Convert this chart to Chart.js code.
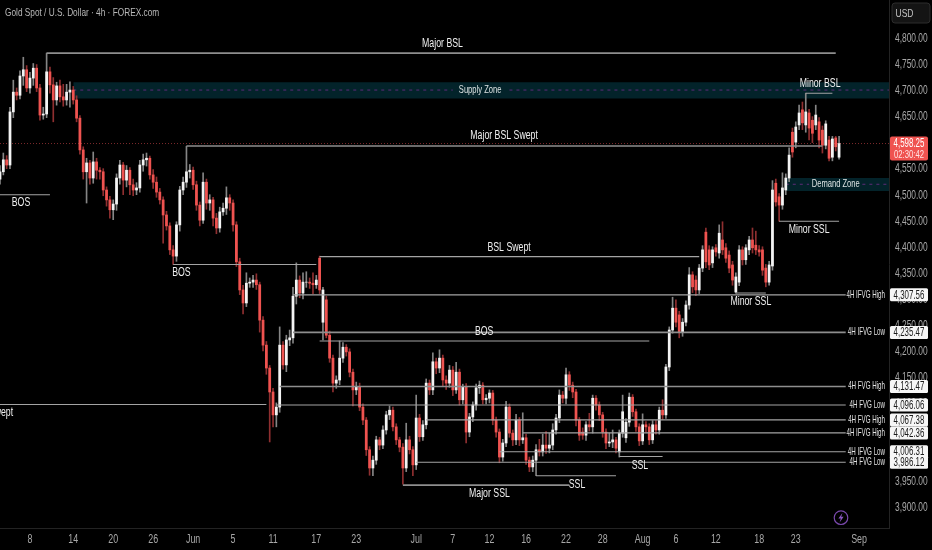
<!DOCTYPE html>
<html>
<head>
<meta charset="utf-8">
<title>Gold Spot / U.S. Dollar</title>
<script src="https://cdn.jsdelivr.net/npm/chart.js@4"></script>
<style>
  html, body { margin: 0; padding: 0; background: #000; overflow: hidden; }
  canvas { display: block; }
</style>
</head>
<body>
<canvas id="chart" width="932" height="550"></canvas>
<script>
// candle values
const opens = [
  4530,4544,4567,4557,4659,4697,4691,4728,4740,4705,
  4724,4743,4705,4653,4655,4736,4711,4682,4709,4688,
  4682,4697,4701,4682,4647,4586,4544,4561,4532,4563,
  4547,4544,4509,4490,4471,4482,4532,4557,4528,4547,
  4519,4509,4513,4557,4567,4570,4538,4524,4505,4490,
  4461,4440,4394,4382,4442,4509,4524,4544,4547,4519,
  4480,4451,4524,4484,4490,4455,4436,4467,4474,4494,
  4484,4442,4371,4317,4292,4330,4332,4336,4327,4259,
  4211,4167,4121,4077,4092,4211,4173,4221,4225,4305,
  4336,4311,4332,4332,4330,4327,4378,4255,4298,4230,
  4186,4138,4144,4186,4207,4198,4159,4125,4131,4092,
  4067,4010,3975,3990,4029,4019,4048,4077,4086,4054,
  4029,4015,3975,4029,4010,3981,4071,4035,4058,4138,
  4125,4179,4167,4186,4144,4138,4163,4125,4159,4106,
  4131,4044,4073,4096,4129,4134,4106,4109,4119,4067,
  4044,3996,4023,4092,4042,4029,4067,4029,4033,3990,
  3977,3990,4010,4006,4019,4013,4019,4048,4071,4115,
  4109,4154,4134,4121,4067,4044,4038,4058,4054,4109,
  4096,4077,4044,4023,4025,4029,4006,4042,4033,4063,
  4111,4083,4054,4027,4058,4054,4029,4058,4048,4086,
  4077,4169,4240,4282,4269,4236,4255,4288,4346,4336,
  4317,4359,4428,4394,4369,4398,4388,4413,4398,4384,
  4365,4313,4332,4394,4375,4394,4413,4403,4394,4394,
  4359,4332,4363,4522,4496,4480,4509,4532,4620,4601,
  4634,4663,4634,4657,4643,4634,4640,4624,4595,4605,
  4572,4609,4572
];
const closes = [
  4544,4567,4557,4659,4697,4691,4728,4740,4705,4724,
  4743,4705,4653,4655,4736,4711,4682,4709,4688,4682,
  4697,4701,4682,4647,4586,4544,4561,4532,4563,4547,
  4544,4509,4490,4471,4482,4532,4557,4528,4547,4519,
  4509,4513,4557,4567,4570,4538,4524,4505,4490,4461,
  4440,4394,4382,4442,4509,4524,4544,4547,4519,4480,
  4451,4524,4484,4490,4455,4436,4467,4474,4494,4484,
  4442,4371,4317,4292,4330,4332,4336,4327,4259,4211,
  4167,4121,4077,4092,4211,4173,4221,4225,4305,4336,
  4311,4332,4332,4330,4327,4336,4317,4317,4230,4186,
  4138,4144,4186,4207,4198,4159,4125,4131,4092,4067,
  4010,3975,3990,4029,4019,4048,4077,4086,4054,4029,
  4015,3975,4029,4010,3981,4071,4035,4058,4138,4125,
  4179,4167,4186,4144,4138,4163,4125,4159,4106,4131,
  4044,4073,4096,4129,4134,4106,4109,4119,4067,4044,
  3996,4023,4092,4042,4029,4067,4029,4033,3990,3977,
  3990,4010,4006,4019,4013,4019,4048,4071,4115,4109,
  4154,4134,4121,4067,4038,4038,4058,4054,4109,4096,
  4077,4044,4023,4025,4029,4013,4042,4083,4063,4111,
  4083,4054,4027,4058,4054,4029,4058,4048,4086,4077,
  4169,4240,4282,4255,4236,4255,4288,4346,4323,4317,
  4359,4394,4371,4365,4394,4390,4426,4394,4378,4359,
  4336,4342,4394,4375,4398,4413,4398,4394,4390,4355,
  4332,4365,4509,4486,4480,4513,4532,4576,4582,4630,
  4657,4638,4659,4628,4618,4653,4605,4595,4636,4570,
  4607,4592,4598.25
];
const highs = [
  4556,4580,4575,4668,4720,4705,4738,4764,4748,4735,
  4752,4750,4712,4668,4772,4745,4725,4716,4720,4712,
  4712,4717,4708,4690,4652,4592,4570,4566,4582,4570,
  4552,4550,4515,4497,4490,4540,4566,4562,4556,4552,
  4530,4523,4566,4578,4580,4574,4548,4534,4512,4496,
  4468,4446,4402,4448,4516,4534,4593,4558,4553,4526,
  4486,4542,4530,4500,4495,4464,4476,4484,4515,4500,
  4490,4448,4378,4326,4350,4340,4345,4348,4332,4266,
  4218,4172,4128,4100,4246,4218,4230,4240,4322,4369,
  4344,4350,4352,4340,4350,4345,4382,4322,4305,4238,
  4192,4152,4219,4216,4212,4204,4165,4140,4138,4098,
  4072,4016,3998,4036,4034,4056,4084,4094,4092,4060,
  4034,4022,4061,4036,4016,4115,4078,4066,4146,4144,
  4196,4186,4202,4192,4152,4172,4170,4178,4165,4136,
  4137,4080,4102,4136,4142,4139,4116,4125,4124,4073,
  4050,4030,4103,4098,4048,4078,4072,4081,4040,3996,
  3998,4020,4030,4040,4045,4042,4060,4078,4125,4122,
  4167,4160,4140,4126,4072,4052,4064,4080,4115,4114,
  4102,4082,4050,4042,4048,4034,4048,4115,4070,4119,
  4116,4088,4060,4079,4064,4060,4066,4066,4092,4106,
  4174,4246,4303,4298,4276,4262,4296,4360,4352,4344,
  4366,4402,4436,4402,4400,4404,4442,4448,4406,4392,
  4372,4350,4402,4400,4404,4420,4436,4430,4402,4400,
  4366,4372,4527,4530,4502,4542,4540,4590,4628,4640,
  4672,4678,4695,4664,4650,4672,4648,4632,4642,4612,
  4612,4612,4612
];
const lows = [
  4520,4538,4550,4550,4648,4682,4684,4710,4698,4695,
  4710,4698,4643,4645,4648,4695,4640,4672,4678,4670,
  4672,4668,4674,4640,4578,4530,4484,4520,4522,4530,
  4530,4498,4478,4455,4452,4470,4520,4500,4515,4500,
  4498,4500,4505,4545,4555,4530,4512,4495,4482,4407,
  4432,4385,4366,4372,4430,4500,4514,4532,4510,4470,
  4440,4445,4472,4470,4440,4425,4428,4460,4462,4470,
  4430,4362,4308,4271,4285,4322,4322,4318,4236,4200,
  4155,4025,4054,4054,4082,4165,4160,4210,4215,4290,
  4302,4300,4322,4320,4310,4320,4310,4221,4225,4178,
  4121,4128,4135,4178,4190,4150,4094,4116,4085,4058,
  3999,3961,3960,3982,4010,4012,4040,4068,4046,4020,
  4006,3944,3968,4002,3960,3972,4026,4028,4050,4116,
  4116,4156,4158,4132,4126,4130,4114,4118,4096,4098,
  4023,4035,4064,4086,4118,4098,4098,4100,4058,4034,
  3985,3988,4016,4034,4018,4020,4018,4022,3982,3968,
  3968,3960,3998,3998,4003,4004,4010,4040,4062,4100,
  4098,4124,4110,4056,4028,4030,4028,4046,4042,4086,
  4066,4034,4012,4016,4014,4004,3996,4034,4024,4055,
  4074,4045,4018,4020,4044,4020,4022,4040,4040,4068,
  4070,4162,4234,4246,4225,4228,4248,4280,4312,4306,
  4310,4352,4360,4356,4360,4382,4378,4385,4370,4350,
  4326,4311,4325,4365,4366,4385,4388,4385,4382,4345,
  4323,4326,4355,4478,4449,4472,4500,4525,4572,4590,
  4625,4625,4620,4605,4600,4625,4590,4580,4588,4565,
  4565,4584,4568
];

// bottom axis
const slotCount = 268;
const dateLabels = ["8","14","20","26","Jun","5","11","17","23","Jul","7","12","16","22","28","Aug","6","12","18","23","Sep"];
const dateSlots = [9,22,34,46,58,70,82,95,107,125,136,147,158,170,181,193,203,215,228,239,258];

// right axis
const priceTicks = [4800,4750,4700,4650,4600,4550,4500,4450,4400,4350,4300,4250,4200,4150,4100,4050,4000,3950,3900];
const lastPrice = 4598.25;
const countdown = "02:30:42";

// drawn levels: from slot, to slot, price
const levelFrom  = [14,56,242,0,52,96,88,88,96,0,84,83,128,157,150,125,186,161,121,221,234];
const levelTo    = [251,247,250,15,95,210,254,254,195,80,254,254,254,254,254,254,199,185,171,230,252];
const levelPrice = [4772,4593.5,4695,4500,4366,4381,4307.56,4235.47,4219,4097,4131.47,4096.06,4067.38,4042.36,4006.31,3986.12,3997,3960,3942,4311,4449];
const heavyLevels = [0,1,7,10,18];

// zones
const zoneFrom   = [22,236];
const zoneTo     = [267,267];
const zoneTop    = [4716,4532];
const zoneBottom = [4685,4507];
const zoneMid    = [4701,4520];
const zoneGapFrom = [136,243];
const zoneGapTo   = [153,259];
const zoneNames  = ["Supply Zone","Demand Zone"];
const zoneNameSlots = [144.2,251];

// free text on the chart
const noteTexts  = ["Major BSL","Major BSL Swept","Minor BSL","BOS","BOS","BSL Swept","BOS","Minor SSL","Minor SSL","SSL","SSL","Major SSL","Swept"];
const noteSlots  = [132.9,151.4,246.3,6.3,54.5,152.9,145.4,225.5,243,192.2,173.3,147,0.3];
const notePrices = [4791,4613,4713,4484,4351,4399,4238,4294,4433,3979,3943,3926,4081];

// labelled levels with a tag on the axis
const tagPrices = [4307.56,4235.47,4131.47,4096.06,4067.38,4042.36,4006.31,3986.12];
const tagNames  = ["4H IFVG High","4H IFVG Low","4H FVG High","4H FVG Low","4H FVG High","4H IFVG High","4H IFVG Low","4H FVG Low"];

const FONT = "'Liberation Sans',sans-serif";
const upCol = "#f4f4f4", downCol = "#ef5350";
const upWick = "#858585", downWick = "#8f2f30";

const categories = [];
for (let i = 0; i < slotCount; i++) {
  const k = dateSlots.indexOf(i);
  categories.push(k >= 0 ? dateLabels[k] : "");
}

function fmt(v) {
  return v.toLocaleString("en-US", { minimumFractionDigits: 2, maximumFractionDigits: 2 });
}

// a series that only has its two end points, the line spans the gap
function span(from, to, price) {
  const arr = new Array(slotCount).fill(null);
  arr[from] = price;
  arr[to] = price;
  return arr;
}

const datasets = [];

datasets.push({
  type: "bar",
  data: lows.map((l, i) => [l, highs[i]]),
  backgroundColor: closes.map((c, i) => (c >= opens[i] ? upWick : downWick)),
  barThickness: 1,
  grouped: false,
  order: 3,
});
datasets.push({
  type: "bar",
  data: opens.map((o, i) => [o, closes[i]]),
  backgroundColor: closes.map((c, i) => (c >= opens[i] ? upCol : downCol)),
  barThickness: 2.1,
  grouped: false,
  order: 2,
});

const mkLine = (pts, opts) =>
  datasets.push(Object.assign({
    type: "line",
    data: pts,
    pointRadius: 0,
    borderWidth: 1,
    tension: 0,
    spanGaps: true,
    fill: false,
    order: 1,
  }, opts));

// zones sit under everything else
zoneFrom.forEach((from, i) => {
  mkLine(span(from, zoneTo[i], zoneTop[i]), {
    borderWidth: 0,
    backgroundColor: "#03232a",
    fill: { value: zoneBottom[i] },
    order: 5,
  });
  const dash = { borderColor: "#5e2b78", borderDash: [3, 4], borderWidth: 1, order: 4 };
  mkLine(span(from, zoneGapFrom[i], zoneMid[i]), dash);
  mkLine(span(zoneGapTo[i], zoneTo[i], zoneMid[i]), dash);
});

// last price line
mkLine(span(0, slotCount - 1, lastPrice), {
  borderColor: "#7c2a2c", borderDash: [1, 2], order: 4,
});

levelPrice.forEach((p, i) => {
  const heavy = heavyLevels.includes(i);
  mkLine(span(levelFrom[i], levelTo[i], p), {
    borderColor: heavy ? "#8e8e8e" : "#a4a4a4",
    borderWidth: heavy ? 1.6 : 1.1,
  });
});

// canvas text squeezed sideways, the reference uses a narrow face
function put(c, text, x, y, squeeze) {
  c.fillText(text, x, y, c.measureText(text).width * squeeze);
}

const overlay = {
  id: "overlay",
  beforeDraw(chart) {
    const c = chart.ctx;
    c.save();
    c.fillStyle = "#000";
    c.fillRect(0, 0, chart.width, chart.height);
    c.restore();
  },
  afterDraw(chart) {
    const c = chart.ctx, sx = chart.scales.x, sy = chart.scales.y;
    c.save();
    c.textBaseline = "middle";

    // title
    c.font = "11.5px " + FONT;
    c.fillStyle = "#b8b8b8";
    c.textAlign = "left";
    put(c, "Gold Spot / U.S. Dollar · 4h · FOREX.com", 5, 13, 0.72);

    // axis labels
    c.fillStyle = "#a8a8a8";
    c.font = "12px " + FONT;
    priceTicks.forEach((v) => put(c, fmt(v), 895, sy.getPixelForValue(v) + 0.5, 0.7));
    c.textAlign = "center";
    dateSlots.forEach((s, i) => put(c, dateLabels[i], sx.getPixelForValue(s), 539.5, 0.74));

    // notes
    c.font = "12.5px " + FONT;
    c.fillStyle = "#f0f0f0";
    noteTexts.forEach((t, i) => {
      put(c, t, sx.getPixelForValue(noteSlots[i]), sy.getPixelForValue(notePrices[i]), 0.7);
    });

    // zone names
    c.font = "11px " + FONT;
    c.fillStyle = "#dde3e3";
    zoneNames.forEach((t, i) => {
      put(c, t, sx.getPixelForValue(zoneNameSlots[i]), sy.getPixelForValue(zoneMid[i]), 0.69);
    });

    // level labels and tags
    c.font = "10.5px " + FONT;
    c.fillStyle = "#e2e2e2";
    c.textAlign = "right";
    tagPrices.forEach((p, i) => {
      put(c, tagNames[i], 885, sy.getPixelForValue(p), 0.59);
    });
    c.fillStyle = "#f6f6f6";
    tagPrices.forEach((p) => {
      const y = sy.getPixelForValue(p);
      c.beginPath();
      c.roundRect(890, y - 6.5, 38, 13, 1.5);
      c.fill();
    });
    c.font = "12px " + FONT;
    c.fillStyle = "#1c1c1c";
    c.textAlign = "center";
    tagPrices.forEach((p) => {
      put(c, fmt(p), 909, sy.getPixelForValue(p) + 0.5, 0.66);
    });

    // last price tag
    const ly = sy.getPixelForValue(lastPrice);
    c.fillStyle = "#ef5350";
    c.beginPath();
    c.roundRect(890, ly - 7, 38, 24, 2);
    c.fill();
    c.fillStyle = "#fff";
    c.font = "12px " + FONT;
    put(c, fmt(lastPrice), 909, ly + 0.5, 0.66);
    c.font = "11px " + FONT;
    c.fillStyle = "#ffe3e3";
    put(c, countdown, 909, ly + 11.5, 0.7);

    // currency button
    c.fillStyle = "#141414";
    c.strokeStyle = "#2c2c2c";
    c.beginPath();
    c.roundRect(892, 3, 38, 20, 3);
    c.fill();
    c.stroke();
    c.fillStyle = "#c4c4c4";
    c.font = "11.5px " + FONT;
    put(c, "USD", 904.5, 13.5, 0.74);

    // lightning badge
    c.strokeStyle = "#7a49ad";
    c.lineWidth = 1.2;
    c.beginPath();
    c.arc(841, 517.7, 6.8, 0, Math.PI * 2);
    c.stroke();
    c.fillStyle = "#8a57c2";
    c.beginPath();
    c.moveTo(842.4, 513);
    c.lineTo(838.4, 518.6);
    c.lineTo(840.8, 518.6);
    c.lineTo(839.6, 522.4);
    c.lineTo(843.6, 516.8);
    c.lineTo(841.2, 516.8);
    c.closePath();
    c.fill();
    c.restore();
  },
};

new Chart(document.getElementById("chart").getContext("2d"), {
  data: { labels: categories, datasets },
  plugins: [overlay],
  options: {
    responsive: false,
    animation: false,
    layout: { padding: 0 },
    plugins: { legend: { display: false }, tooltip: { enabled: false } },
    scales: {
      x: {
        type: "category",
        offset: false,
        grid: { display: false, drawTicks: false },
        border: { color: "#232323" },
        afterBuildTicks: (s) => { s.ticks = dateSlots.map((v) => ({ value: v })); },
        afterFit: (s) => { s.height = 22; },
        ticks: { display: false, autoSkip: false, maxRotation: 0 },
      },
      y: {
        position: "right",
        min: 3859.7,
        max: 4874,
        grid: { display: false, drawTicks: false },
        border: { color: "#232323" },
        afterBuildTicks: (s) => { s.ticks = priceTicks.map((v) => ({ value: v })); },
        afterFit: (s) => { s.width = 43; },
        ticks: { display: false },
      },
    },
  },
});
</script>
</body>
</html>
